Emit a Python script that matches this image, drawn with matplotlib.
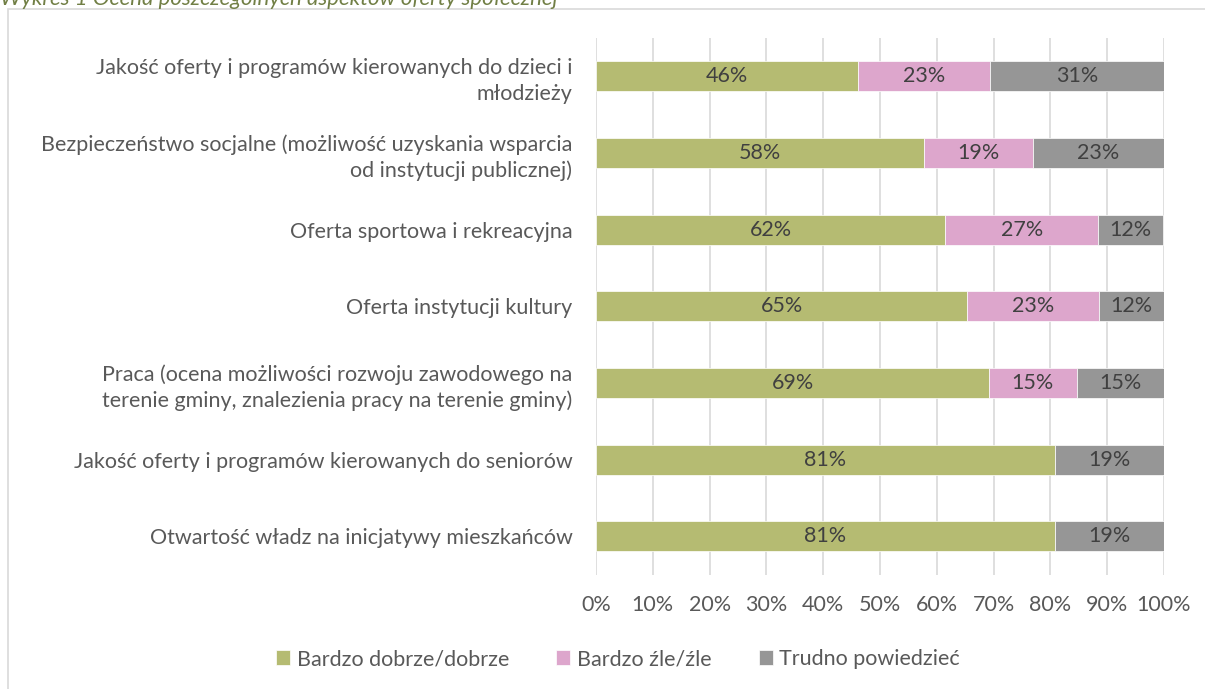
import matplotlib.pyplot as plt
from matplotlib.patches import Rectangle

# data (percent of respondents)
categories = [
    "Jakość oferty i programów kierowanych do dzieci i\nmłodzieży",
    "Bezpieczeństwo socjalne (możliwość uzyskania wsparcia\nod instytucji publicznej)",
    "Oferta sportowa i rekreacyjna",
    "Oferta instytucji kultury",
    "Praca (ocena możliwości rozwoju zawodowego na\nterenie gminy, znalezienia pracy na terenie gminy)",
    "Jakość oferty i programów kierowanych do seniorów",
    "Otwartość władz na inicjatywy mieszkańców",
]
good = [46.2, 57.7, 61.5, 65.4, 69.2, 80.8, 80.8]
bad = [23.1, 19.2, 26.9, 23.1, 15.4, 0.0, 0.0]
hard = [30.8, 23.1, 11.5, 11.5, 15.4, 19.2, 19.2]
series_names = ["Bardzo dobrze/dobrze", "Bardzo źle/źle", "Trudno powiedzieć"]
colors = ["#B5BB72", "#DDA6CC", "#969696"]
xticks = list(range(0, 101, 10))

plt.rcParams["font.family"] = ["Lato", "DejaVu Sans"]
FS = 15.5

fig = plt.figure(figsize=(12.05, 6.89), dpi=100)
ax = fig.add_axes([0.4946, 0.1660, 0.4714, 0.7788])

# chart border and clipped caption
fig.patches.append(Rectangle((8 / 1205, -0.01), 1.2, 1 - 9 / 689 + 0.01,
                             transform=fig.transFigure, fill=False,
                             edgecolor="#D9D9D9", linewidth=1.2))
fig.text(0.0, 1 - 5 / 689, "Wykres 1 Ocena poszczególnych aspektów oferty społecznej",
         fontsize=16, style="italic", color="#717F45", va="baseline", ha="left")

y = list(range(len(categories)))
left = [0.0] * len(categories)
for vals, name, col in zip([good, bad, hard], series_names, colors):
    bars = ax.barh(y, vals, left=left, height=0.39, color=col, label=name,
                   edgecolor="white", linewidth=0.5, zorder=3)
    for b, v, l in zip(bars, vals, left):
        if v > 0:
            ax.text(l + v / 2, b.get_y() + b.get_height() / 2, f"{v:.0f}%",
                    ha="center", va="center", fontsize=FS, color="#404040", zorder=4)
    left = [a + b for a, b in zip(left, vals)]

ax.set_xlim(0, 100)
ax.set_ylim(len(categories) - 0.5, -0.5)
ax.set_yticks(y)
ax.set_yticklabels(categories, fontsize=FS, color="#595959", ha="right",
                   linespacing=1.35)
ax.set_xticks(xticks)
ax.set_xticklabels([f"{t}%" for t in xticks], fontsize=FS, color="#595959")
ax.tick_params(axis="y", length=0, pad=17)
ax.tick_params(axis="x", length=0, pad=15)
ax.grid(axis="x", color="#D9D9D9", linewidth=1.2, zorder=0)
for s in ax.spines.values():
    s.set_visible(False)

fig.legend(loc="center", bbox_to_anchor=(618 / 1205, 1 - 659 / 689), ncol=3,
           frameon=False, fontsize=FS, handlelength=0.65, handleheight=0.65,
           handletextpad=0.3, columnspacing=2.2, labelcolor="#595959")

fig.savefig("out.png", dpi=100)
